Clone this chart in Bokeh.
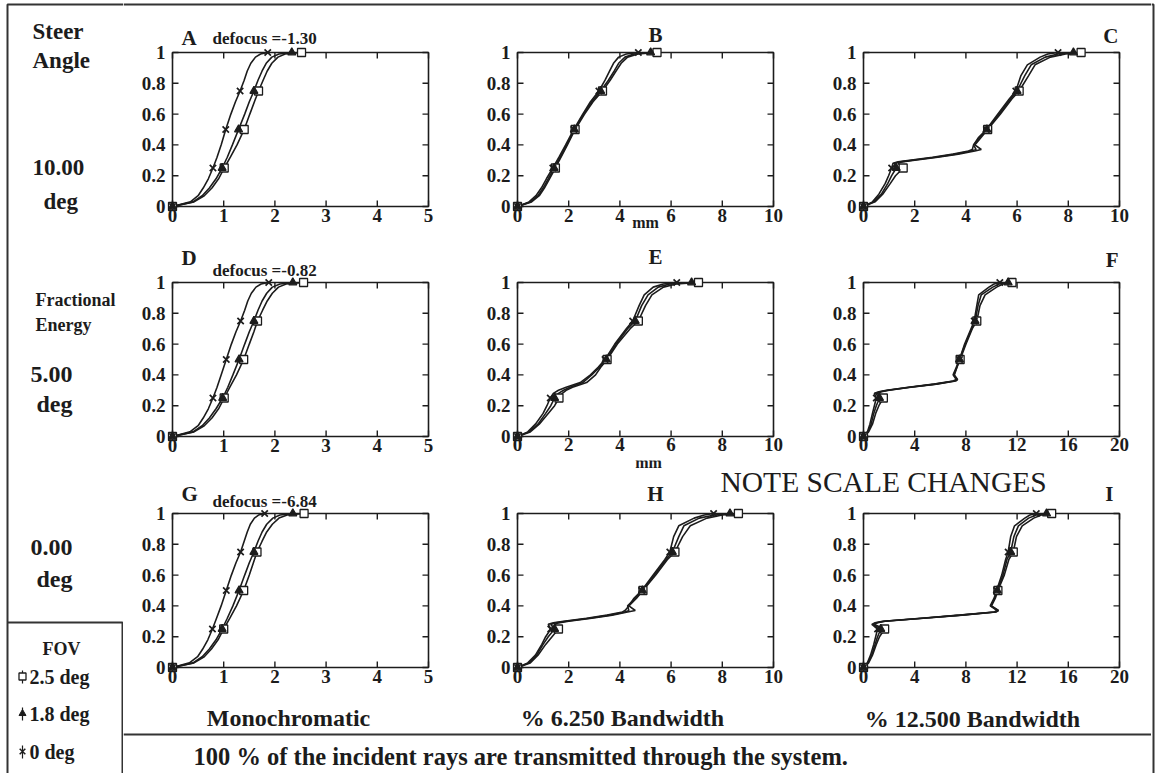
from bokeh.plotting import figure
from bokeh.layouts import row, column
from bokeh.models import Range1d, FixedTicker, NumeralTickFormatter
from bokeh.core.properties import value
from bokeh.embed import file_html
from bokeh.resources import INLINE

FONT = "Liberation Serif"
INK = "#1c1c1c"
EDGE = "#333333"

# ---------------- data ----------------
FOV = ["2.5 deg", "1.8 deg", "0 deg"]
Y_TICKS = [0, 0.2, 0.4, 0.6, 0.8, 1.0]
X_TICKS_5 = [0, 1, 2, 3, 4, 5]
X_TICKS_10 = [0, 2, 4, 6, 8, 10]
X_TICKS_20 = [0, 4, 8, 12, 16, 20]
MARK_LEVELS = [0, 0.25, 0.5, 0.75, 1.0]

# fractional-energy levels
Y_SIG = [0, 0.03, 0.07, 0.12, 0.18, 0.25, 0.32, 0.4, 0.5, 0.6, 0.68, 0.75, 0.82, 0.88, 0.93, 0.97, 0.99, 1.0]
Y_E = [0, 0.03, 0.08, 0.15, 0.2, 0.25, 0.28, 0.3, 0.32, 0.35, 0.4, 0.45, 0.5, 0.6, 0.7, 0.75, 0.85, 0.92, 0.97, 0.99, 1.0]
Y_STEP = [0, 0.03, 0.08, 0.15, 0.2, 0.25, 0.28, 0.29, 0.3, 0.32, 0.34, 0.36, 0.37, 0.4, 0.45, 0.5, 0.6, 0.7, 0.75, 0.85, 0.92, 0.97, 0.99, 1.0]

# radius (mm) for FOV 0 deg / 1.8 deg / 2.5 deg
A_X0 = [0, 0.35, 0.5, 0.6, 0.7, 0.79, 0.87, 0.95, 1.04, 1.14, 1.23, 1.32, 1.4, 1.46, 1.53, 1.62, 1.72, 1.86]
A_X18 = [0, 0.4, 0.58, 0.72, 0.85, 0.97, 1.07, 1.17, 1.29, 1.41, 1.5, 1.59, 1.67, 1.75, 1.83, 1.94, 2.08, 2.33]
A_X25 = [0, 0.42, 0.62, 0.77, 0.9, 1.01, 1.13, 1.26, 1.4, 1.51, 1.6, 1.68, 1.77, 1.85, 1.94, 2.06, 2.2, 2.52]

B_X0 = [0, 0.45, 0.72, 0.93, 1.13, 1.38, 1.62, 1.88, 2.2, 2.55, 2.85, 3.18, 3.42, 3.6, 3.75, 3.95, 4.25, 4.72]
B_X18 = [0, 0.5, 0.8, 1.0, 1.2, 1.43, 1.67, 1.92, 2.22, 2.58, 2.9, 3.25, 3.55, 3.78, 3.95, 4.2, 4.55, 5.2]
B_X25 = [0, 0.55, 0.85, 1.05, 1.25, 1.48, 1.7, 1.95, 2.25, 2.62, 2.95, 3.32, 3.62, 3.85, 4.05, 4.3, 4.7, 5.45]

C_X0 = [0, 0.35, 0.6, 0.85, 0.98, 1.1, 1.15, 1.35, 1.8, 2.7, 3.5, 4.1, 4.25, 4.3, 4.5, 4.8, 5.25, 5.7, 5.95, 6.15, 6.4, 6.9, 7.2, 7.6]
C_X18 = [0, 0.4, 0.7, 0.95, 1.1, 1.28, 1.2, 1.45, 1.9, 2.8, 3.6, 4.2, 4.4, 4.3, 4.55, 4.82, 5.3, 5.75, 6.0, 6.3, 6.55, 7.1, 7.6, 8.2]
C_X25 = [0, 0.45, 0.75, 1.05, 1.25, 1.55, 1.35, 1.5, 2.0, 2.9, 3.7, 4.35, 4.6, 4.35, 4.6, 4.85, 5.35, 5.8, 6.08, 6.45, 6.7, 7.3, 7.9, 8.5]

D_X0 = [0, 0.34, 0.5, 0.6, 0.7, 0.79, 0.87, 0.95, 1.05, 1.15, 1.24, 1.33, 1.41, 1.47, 1.54, 1.63, 1.73, 1.88]
D_X18 = [0, 0.4, 0.58, 0.72, 0.85, 0.98, 1.08, 1.18, 1.3, 1.41, 1.5, 1.59, 1.67, 1.75, 1.84, 1.95, 2.1, 2.35]
D_X25 = [0, 0.42, 0.62, 0.77, 0.9, 1.01, 1.12, 1.25, 1.39, 1.5, 1.59, 1.66, 1.76, 1.85, 1.95, 2.07, 2.22, 2.56]

E_X0 = [0, 0.4, 0.7, 1.0, 1.15, 1.28, 1.4, 1.6, 1.9, 2.45, 2.85, 3.15, 3.42, 3.8, 4.25, 4.5, 4.75, 4.95, 5.3, 5.7, 6.22]
E_X18 = [0, 0.45, 0.8, 1.1, 1.3, 1.45, 1.6, 1.8, 2.05, 2.55, 2.9, 3.2, 3.47, 3.85, 4.3, 4.6, 4.85, 5.1, 5.5, 5.95, 6.8]
E_X25 = [0, 0.5, 0.85, 1.2, 1.45, 1.62, 1.75, 1.9, 2.15, 2.7, 3.05, 3.25, 3.5, 3.9, 4.4, 4.72, 5.0, 5.25, 5.7, 6.2, 7.07]

F_X0 = [0, 0.3, 0.5, 0.7, 0.85, 1.0, 0.85, 1.2, 1.8, 3.5, 5.5, 7.0, 7.25, 7.0, 7.25, 7.5, 7.9, 8.4, 8.65, 8.85, 9.0, 9.8, 10.2, 10.65]
F_X18 = [0, 0.35, 0.6, 0.8, 1.0, 1.25, 0.95, 1.3, 1.9, 3.6, 5.6, 7.1, 7.3, 7.05, 7.3, 7.5, 7.95, 8.45, 8.72, 8.95, 9.2, 10.1, 10.6, 11.3]
F_X25 = [0, 0.4, 0.7, 0.95, 1.2, 1.55, 1.05, 1.4, 2.0, 3.7, 5.7, 7.2, 7.35, 7.1, 7.3, 7.55, 8.0, 8.5, 8.85, 9.1, 9.5, 10.4, 10.9, 11.6]

G_X0 = [0, 0.33, 0.49, 0.59, 0.69, 0.78, 0.86, 0.95, 1.05, 1.15, 1.24, 1.33, 1.4, 1.46, 1.52, 1.6, 1.68, 1.8]
G_X18 = [0, 0.4, 0.58, 0.72, 0.85, 0.97, 1.07, 1.18, 1.3, 1.41, 1.5, 1.59, 1.67, 1.75, 1.84, 1.96, 2.1, 2.35]
G_X25 = [0, 0.42, 0.62, 0.76, 0.89, 1.0, 1.12, 1.25, 1.39, 1.5, 1.58, 1.65, 1.75, 1.84, 1.95, 2.08, 2.24, 2.57]

H_X0 = [0, 0.4, 0.7, 0.95, 1.1, 1.3, 1.2, 1.4, 1.8, 2.7, 3.5, 4.1, 4.2, 4.35, 4.55, 4.85, 5.3, 5.75, 5.95, 6.1, 6.3, 6.9, 7.3, 7.66]
H_X18 = [0, 0.45, 0.75, 1.0, 1.2, 1.45, 1.3, 1.5, 1.9, 2.8, 3.6, 4.2, 4.35, 4.3, 4.6, 4.88, 5.35, 5.8, 6.05, 6.3, 6.5, 7.1, 7.7, 8.3]
H_X25 = [0, 0.5, 0.8, 1.1, 1.35, 1.6, 1.45, 1.6, 2.0, 2.9, 3.7, 4.3, 4.6, 4.35, 4.65, 4.9, 5.4, 5.85, 6.15, 6.45, 6.75, 7.4, 8.0, 8.63]

I_X0 = [0, 0.3, 0.55, 0.8, 0.95, 1.1, 0.65, 0.9, 1.5, 4.5, 7.5, 10.2, 10.45, 9.9, 10.2, 10.4, 10.8, 11.1, 11.3, 11.5, 11.8, 12.6, 13.0, 13.5]
I_X18 = [0, 0.35, 0.65, 0.9, 1.1, 1.35, 0.75, 1.0, 1.6, 4.6, 7.6, 10.3, 10.5, 9.95, 10.25, 10.45, 10.9, 11.2, 11.5, 11.75, 12.1, 12.9, 13.5, 14.3]
I_X25 = [0, 0.4, 0.7, 1.0, 1.25, 1.65, 0.85, 1.1, 1.7, 4.7, 7.7, 10.35, 10.55, 10.0, 10.3, 10.5, 11.0, 11.35, 11.7, 11.95, 12.4, 13.3, 13.9, 14.7]

PANEL_KEYS = ["A", "B", "C", "D", "E", "F", "G", "H", "I"]
DEFOCUS = ["defocus =-1.30", "defocus =-0.82", "defocus =-6.84"]
ROW_LABELS = [["Steer", "Angle", "10.00", "deg"], ["Fractional", "Energy", "5.00", "deg"], ["0.00", "deg"]]
COL_LABELS = ["Monochromatic", "% 6.250 Bandwidth", "% 12.500 Bandwidth"]
X_UNIT = "mm"
NOTE = "NOTE SCALE CHANGES"
FOOTNOTE = "100 % of the incident rays are transmitted through the system."

PANELS = [
    (5, X_TICKS_5, Y_SIG, [A_X25, A_X18, A_X0]),
    (10, X_TICKS_10, Y_SIG, [B_X25, B_X18, B_X0]),
    (10, X_TICKS_10, Y_STEP, [C_X25, C_X18, C_X0]),
    (5, X_TICKS_5, Y_SIG, [D_X25, D_X18, D_X0]),
    (10, X_TICKS_10, Y_E, [E_X25, E_X18, E_X0]),
    (20, X_TICKS_20, Y_STEP, [F_X25, F_X18, F_X0]),
    (5, X_TICKS_5, Y_SIG, [G_X25, G_X18, G_X0]),
    (10, X_TICKS_10, Y_STEP, [H_X25, H_X18, H_X0]),
    (20, X_TICKS_20, Y_STEP, [I_X25, I_X18, I_X0]),
]
MARKERS = ["square", "triangle", "x"]

# ---------------- layout geometry (pixels) ----------------
BOX_W, BOX_H = 256, 154          # data box size
COL_L = [172, 517, 863]          # data box left edge (page px)
ROW_T = [52, 282, 513]           # data box top edge (page px)
PAD_X, PAD_B = 6, 6
TOP_STRIP = 24
TICK = 6
COL_W = [347, 327, 354]
COL_BL = [43, 41, 60]
COL_BR = [36, 18, 26]
# (figure top, figure bottom) in page pixels for every panel
PANEL_Y = [(TOP_STRIP, 240)] * 3 + [(240, 472), (240, 460), (240, 460), (472, 700), (506, 700), (506, 700)]
BASE_K = 0.36                    # baseline correction for text glyphs
TITLE_POS = [(181, 45), (655, 42), (1118, 43), (181, 265), (655, 264), (1118, 267), (181, 501)]
DEFOCUS_POS = [(212, 44), (212, 276), (212, 507)]


def panel_text(p, r, c, xmax, ax, ay, t, size, align="left", style="bold"):
    # ax, ay: page pixels (ay = baseline)
    y_pix = ay - BASE_K * size
    x = (ax - COL_L[c]) / BOX_W * xmax
    y = (ROW_T[r] + BOX_H - y_pix) / BOX_H
    p.text(x=[x], y=[y], text=[t], text_font=value(FONT), text_font_size="%gpx" % size,
           text_font_style=style, text_align=align, text_baseline="alphabetic", text_color=INK)


def make_panel(i):
    xmax, xticks, levels, series = PANELS[i]
    r, c = divmod(i, 3)
    y0, y1 = PANEL_Y[i]
    pad_t = ROW_T[r] - y0
    bb = y1 - (ROW_T[r] + BOX_H + PAD_B)
    ux = xmax / BOX_W
    uy = 1.0 / BOX_H
    p = figure(width=COL_W[c], height=y1 - y0, title=None,
               min_border_left=COL_BL[c], min_border_right=COL_BR[c],
               min_border_top=0, min_border_bottom=bb,
               x_range=Range1d(-PAD_X * ux, xmax + PAD_X * ux),
               y_range=Range1d(-PAD_B * uy, 1 + pad_t * uy),
               output_backend="svg", toolbar_location=None)
    p.grid.visible = False
    p.outline_line_color = None
    p.background_fill_color = "white"
    p.border_fill_color = "white"

    xa, ya = p.xaxis[0], p.yaxis[0]
    for ax, ticks in ((xa, xticks), (ya, Y_TICKS)):
        ax.ticker = FixedTicker(ticks=ticks)
        ax.axis_line_color = None
        ax.major_tick_line_color = None
        ax.minor_tick_line_color = None
        ax.major_tick_out = 0
        ax.major_tick_in = 0
        ax.major_label_text_font = FONT
        ax.major_label_text_font_style = "bold"
        ax.major_label_text_font_size = "19px"
        ax.major_label_text_color = INK
    ya.formatter = NumeralTickFormatter(format="0.[0]")
    ya.major_label_standoff = 7 - PAD_X
    xa.major_label_standoff = (1 if i in (4, 5) else 2) - PAD_B
    if i == 1:
        xa.axis_label = X_UNIT
        xa.axis_label_text_font = FONT
        xa.axis_label_text_font_style = "bold"
        xa.axis_label_text_font_size = "16px"
        xa.axis_label_text_color = INK
        xa.axis_label_standoff = -11

    # plot box and inward ticks on all four sides
    p.line([0, xmax, xmax, 0, 0], [0, 0, 1, 1, 0], line_color=INK, line_width=1.6)
    n, m = len(xticks), len(Y_TICKS)
    p.segment(x0=xticks, y0=[0] * n, x1=xticks, y1=[TICK * uy] * n, line_color=INK, line_width=1.4)
    p.segment(x0=xticks, y0=[1] * n, x1=xticks, y1=[1 - TICK * uy] * n, line_color=INK, line_width=1.4)
    p.segment(x0=[0] * m, y0=Y_TICKS, x1=[TICK * ux] * m, y1=Y_TICKS, line_color=INK, line_width=1.4)
    p.segment(x0=[xmax] * m, y0=Y_TICKS, x1=[xmax - TICK * ux] * m, y1=Y_TICKS, line_color=INK, line_width=1.4)

    for xs in series:
        p.line(xs, levels, line_color=INK, line_width=1.6)
    for xs, mk in zip(series, MARKERS):
        seen, fx, fy = set(), [], []
        for x, y in zip(xs, levels):
            if y in MARK_LEVELS and y not in seen:
                seen.add(y)
                fx.append(x)
                fy.append(y)
        if mk == "square":
            p.scatter(fx, fy, marker="square", size=8, line_color=INK, fill_color="white", line_width=1.3)
        elif mk == "triangle":
            p.scatter(fx, fy, marker="triangle", size=8, line_color=INK, fill_color=INK, line_width=1.2)
        else:
            p.scatter(fx, fy, marker="x", size=9, line_color=INK, line_width=1.7)

    # panel letters / defocus drawn inside the (extended) frame where room allows
    if i < 7:
        tx, ty = TITLE_POS[i]
        align = ["left", "center", "right"][c]
        panel_text(p, r, c, xmax, tx, ty, PANEL_KEYS[i], 21, align=align)
        if c == 0:
            dx, dy = DEFOCUS_POS[r]
            panel_text(p, r, c, xmax, dx, dy, DEFOCUS[r], 17)
    return p


def deco(width, height, x0, x1, y0, y1):
    p = figure(width=width, height=height, title=None, x_range=Range1d(x0, x1), y_range=Range1d(y1, y0),
               min_border=0, x_axis_type=None, y_axis_type=None,
               output_backend="svg", toolbar_location=None)
    p.outline_line_color = None
    p.grid.visible = False
    p.background_fill_color = "white"
    p.border_fill_color = "white"
    return p


def txt(p, x, y, t, size, align="left", style="bold"):
    # y is the intended baseline (pixels from the top of the page)
    p.text(x=[x], y=[y - BASE_K * size], text=[t], text_font=value(FONT), text_font_size="%gpx" % size,
           text_font_style=style, text_align=align, text_baseline="alphabetic", text_color=INK)


# left label column (with outer left/top border and FOV box)
left = deco(123, 773, 0, 123, 0, 773)
left.line([123, 7, 7], [4, 4, 773], line_color=EDGE, line_width=2)
left.line([7, 122, 122], [622, 622, 773], line_color=EDGE, line_width=2)
txt(left, 32, 39, ROW_LABELS[0][0], 23)
txt(left, 32, 68, ROW_LABELS[0][1], 23)
txt(left, 32, 175, ROW_LABELS[0][2], 23)
txt(left, 43, 209, ROW_LABELS[0][3], 23)
txt(left, 35, 306, ROW_LABELS[1][0], 18)
txt(left, 35, 331, ROW_LABELS[1][1], 18)
txt(left, 30, 383, ROW_LABELS[1][2], 24)
txt(left, 36, 412, ROW_LABELS[1][3], 24)
txt(left, 30, 556, ROW_LABELS[2][0], 24)
txt(left, 36, 587, ROW_LABELS[2][1], 24)
txt(left, 61, 655, "FOV", 18, align="center")
for lab, mk, yy in zip(FOV, MARKERS, [684, 721, 759]):
    txt(left, 29, yy, lab, 20)
    left.line([22, 22], [yy - 14, yy - 1], line_color=INK, line_width=1.2)
    if mk == "square":
        left.scatter([22], [yy - 8], marker="square", size=7, line_color=INK, fill_color="white", line_width=1.3)
    elif mk == "triangle":
        left.scatter([22], [yy - 8], marker="triangle", size=7, line_color=INK, fill_color=INK)
    else:
        left.scatter([22], [yy - 8], marker="x", size=8, line_color=INK, line_width=1.5)

# top border strip
top = deco(1028, TOP_STRIP, 123, 1151, 0, TOP_STRIP)
top.line([123, 1151], [4, 4], line_color=EDGE, line_width=2)

# strip between panels E/F and H/I: x-unit of E, note and panel letters
strip3 = deco(681, 46, 470, 1151, 460, 506)
txt(strip3, 648, 468, X_UNIT, 16, align="center")
txt(strip3, 720, 492, NOTE, 29.5, style="normal")
txt(strip3, 655, 501, PANEL_KEYS[7], 21, align="center")
txt(strip3, 1113, 501.5, PANEL_KEYS[8], 21, align="right")

# bottom strip with column captions and footnote
bottom = deco(1028, 73, 123, 1151, 700, 773)
txt(bottom, 288, 726, COL_LABELS[0], 24, align="center")
txt(bottom, 622, 726, COL_LABELS[1], 24, align="center")
txt(bottom, 972, 727, COL_LABELS[2], 24, align="center")
bottom.line([123, 1151], [734, 734], line_color=EDGE, line_width=2)
txt(bottom, 193, 765, FOOTNOTE, 24.5)

# right edge border
redge = deco(7, 773, 1151, 1158, 0, 773)
redge.line([1151, 1153, 1153], [4, 4, 773], line_color=EDGE, line_width=2)

panels = [make_panel(i) for i in range(9)]
lower = row(column(panels[3], panels[6]),
            column(row(panels[4], panels[5]), strip3, row(panels[7], panels[8])))
grid = column(top, row(*panels[0:3]), lower, bottom)
page = row(left, grid, redge)

open("out.html", "w").write(file_html(page, INLINE))
